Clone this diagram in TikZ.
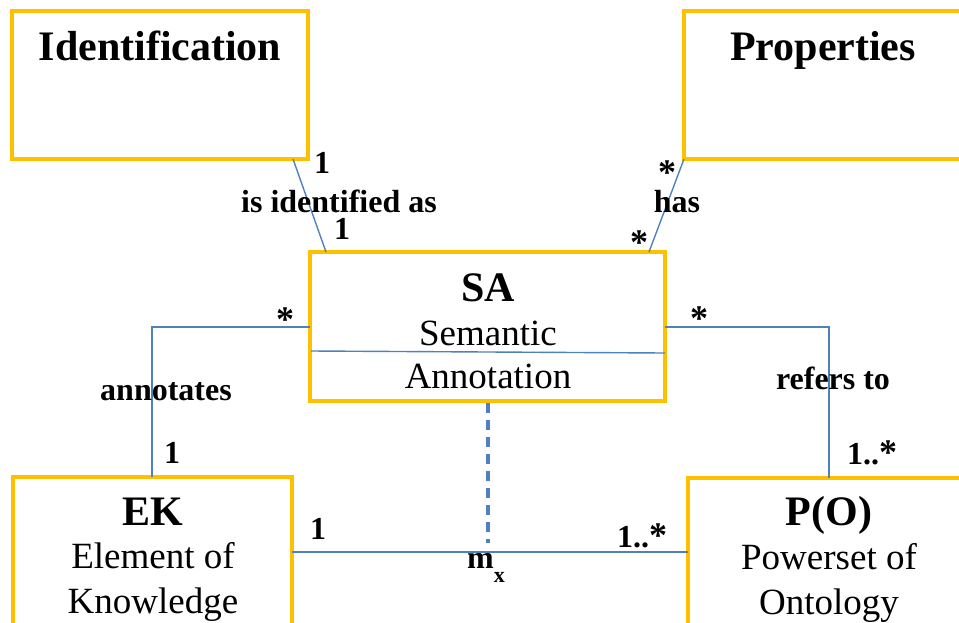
\documentclass[tikz,border=0pt]{standalone}
\usepackage{fontspec}
\setmainfont{Liberation Serif}
\definecolor{boxorange}{HTML}{FFC000}
\definecolor{linkblue}{HTML}{4F81BD}
\begin{document}
\begin{tikzpicture}[x=1pt,y=-1pt,
  classbox/.style={draw=boxorange, line width=4pt, fill=white, rectangle, anchor=north west, outer sep=0pt, inner sep=0pt},
  title/.style={font=\fontsize{42}{48}\selectfont\bfseries, anchor=base, inner sep=0pt},
  body/.style={font=\fontsize{37}{44}\selectfont, anchor=base, inner sep=0pt},
  lab/.style={font=\fontsize{32}{38}\selectfont\bfseries, anchor=base, inner sep=0pt, text height=22pt, text depth=0pt},
  star/.style={font=\fontsize{36}{40}\selectfont\bfseries, anchor=base, inner sep=0pt, text height=25pt, text depth=0pt},
  conn/.style={draw=linkblue, line width=1.4pt},
  link/.style={draw=linkblue, line width=3.6pt, dash pattern=on 10pt off 7pt}
]
\useasboundingbox (0,0) rectangle (959,622);
\clip (0,0) rectangle (959,622);
% boxes
\node[classbox, minimum width=296pt, minimum height=148pt] (ident) at (12,11) {};
\node[classbox, minimum width=320pt, minimum height=148pt] (props) at (684,11) {};
\node[classbox, minimum width=355pt, minimum height=149pt] (sa) at (310,252) {};
\node[classbox, minimum width=279pt, minimum height=220pt] (ek) at (13,477) {};
\node[classbox, minimum width=320pt, minimum height=220pt] (po) at (688,478) {};
% box texts
\node[title] (identT) at (160,60) {Identification};
\node[title] (propsT) at (823,60) {Properties};
\node[title] (saT) at (488,301) {SA};
\node[body] (saB1) at (488,345) {Semantic};
\node[body] (saB2) at (488,388) {Annotation};
\node[title] (ekT) at (153,525) {EK};
\node[body] (ekB1) at (153,568) {Element of};
\node[body] (ekB2) at (153,613) {Knowledge};
\node[title] (poT) at (829,525) {P(O)};
\node[body] (poB1) at (829,569) {Powerset of};
\node[body] (poB2) at (829,614) {Ontology};
% SA divider
\coordinate (divL) at (311,351);
\coordinate (divR) at (665,353);
\draw[conn] (divL) -- (divR);
% connector end points
\coordinate (identP) at (293,159);
\coordinate (saIdent) at (326,252);
\coordinate (propsP) at (684,159);
\coordinate (saProps) at (649,252);
\coordinate (saL) at (310,327);
\coordinate (saR) at (665,327);
\coordinate (ekTop) at (152,477);
\coordinate (poTop) at (829,478);
\coordinate (ekR) at (292,552);
\coordinate (poL) at (688,552);
\coordinate (saBot) at (488,403);
\coordinate (assoc) at (488,543);
% connectors
\draw[conn] (identP) -- (saIdent);
\draw[conn] (propsP) -- (saProps);
\draw[conn] (saL) -| (ekTop);
\draw[conn] (saR) -| (poTop);
\draw[conn] (ekR) -- (poL);
\draw[link] (saBot) -- (assoc);
% labels
\node[lab] (l1) at (322,173) {1};
\node[lab] (l2) at (339,212) {is identified as};
\node[lab] (l3) at (342,239) {1};
\node[star] (l4) at (667,184) {*};
\node[lab] (l5) at (677,212) {has};
\node[star] (l6) at (639,254) {*};
\node[star] (l7) at (285,331) {*};
\node[lab] (l8) at (166,400) {annotates};
\node[lab] (l9) at (172,463) {1};
\node[star] (l10) at (699,330) {*};
\node[lab] (l11) at (833,389) {refers to};
\node[lab] (l12) at (872,464) {1..\fontsize{36}{40}\selectfont*};
\node[lab] (l13) at (318,539) {1};
\node[lab] (l14) at (642,547) {1..\fontsize{36}{40}\selectfont*};
\node[lab, anchor=base west] (l15) at (467,568) {m\raisebox{-14pt}{\fontsize{22}{26}\selectfont x}};
\end{tikzpicture}
\end{document}
